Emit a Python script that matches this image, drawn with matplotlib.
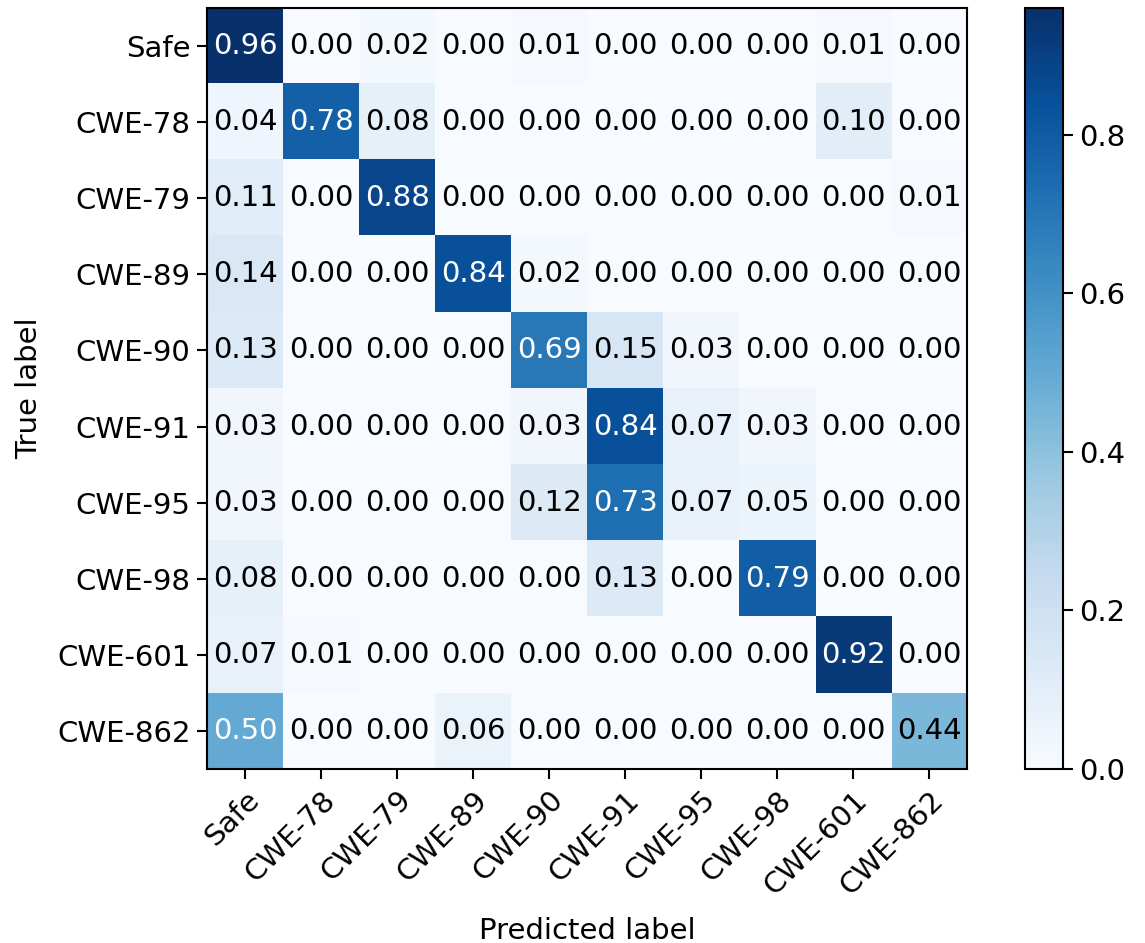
import numpy as np
import matplotlib
matplotlib.use("Agg")
import matplotlib.pyplot as plt

labels = ["Safe", "CWE-78", "CWE-79", "CWE-89", "CWE-90",
          "CWE-91", "CWE-95", "CWE-98", "CWE-601", "CWE-862"]

cm = np.array([
    [0.96, 0.00, 0.02, 0.00, 0.01, 0.00, 0.00, 0.00, 0.01, 0.00],
    [0.04, 0.78, 0.08, 0.00, 0.00, 0.00, 0.00, 0.00, 0.10, 0.00],
    [0.11, 0.00, 0.88, 0.00, 0.00, 0.00, 0.00, 0.00, 0.00, 0.01],
    [0.14, 0.00, 0.00, 0.84, 0.02, 0.00, 0.00, 0.00, 0.00, 0.00],
    [0.13, 0.00, 0.00, 0.00, 0.69, 0.15, 0.03, 0.00, 0.00, 0.00],
    [0.03, 0.00, 0.00, 0.00, 0.03, 0.84, 0.07, 0.03, 0.00, 0.00],
    [0.03, 0.00, 0.00, 0.00, 0.12, 0.73, 0.07, 0.05, 0.00, 0.00],
    [0.08, 0.00, 0.00, 0.00, 0.00, 0.13, 0.00, 0.79, 0.00, 0.00],
    [0.07, 0.01, 0.00, 0.00, 0.00, 0.00, 0.00, 0.00, 0.92, 0.00],
    [0.50, 0.00, 0.00, 0.06, 0.00, 0.00, 0.00, 0.00, 0.00, 0.44],
])

fs = 21
plt.rcParams["axes.linewidth"] = 1.5
fig = plt.figure(figsize=(11.45, 9.43), dpi=100)
ax = fig.add_axes([0.181, 0.1845, 0.6638, 0.807])
cax = fig.add_axes([0.895, 0.1845, 0.033, 0.807])

im = ax.imshow(cm, interpolation="nearest", cmap=plt.cm.Blues, aspect="auto")
cb = fig.colorbar(im, cax=cax)
cb.outline.set_linewidth(1.5)
cb.ax.tick_params(labelsize=fs, length=7, width=1.5, pad=5)

n = len(labels)
ax.set_xticks(np.arange(n))
ax.set_yticks(np.arange(n))
ax.set_xticklabels(labels, rotation=45, ha="right", rotation_mode="anchor", fontsize=fs)
ax.set_yticklabels(labels, fontsize=fs)
ax.tick_params(length=7, width=1.5, pad=5)
ax.set_xlabel("Predicted label", fontsize=fs, labelpad=12)
ax.set_ylabel("True label", fontsize=fs, labelpad=10)

thresh = cm.max() / 2.0
for i in range(n):
    for j in range(n):
        ax.text(j, i, format(cm[i, j], ".2f"), ha="center", va="center",
                fontsize=fs, color="white" if cm[i, j] > thresh else "black")

fig.savefig("out.png", dpi=100)
